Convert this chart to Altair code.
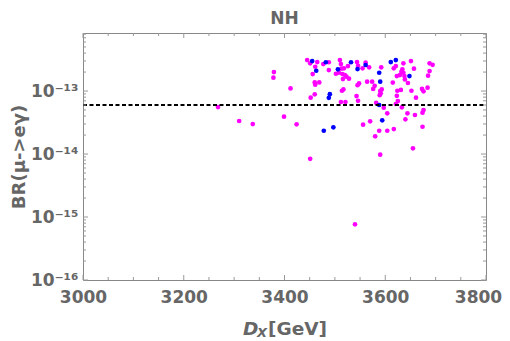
import altair as alt
import pandas as pd

# ---- data ----
pink_x = [3268, 3310, 3337, 3379, 3378, 3412, 3445, 3451, 3465, 3461, 3456, 3477, 3488, 3488,
          3460, 3461, 3469, 3460, 3452, 3510, 3512, 3513, 3518, 3502, 3508, 3515, 3520, 3523,
          3516, 3528, 3526, 3544, 3546, 3545, 3548, 3543, 3517, 3514, 3512, 3521, 3546, 3399,
          3424, 3451, 3540, 3590, 3561, 3555, 3568, 3592, 3564, 3574, 3579, 3576, 3593, 3590,
          3591, 3589, 3617, 3621, 3636, 3651, 3657, 3634, 3632, 3636, 3629, 3623, 3638, 3639,
          3645, 3615, 3624, 3631, 3623, 3652, 3661, 3688, 3694, 3688, 3685, 3684, 3673, 3676,
          3582, 3597, 3621, 3625, 3633, 3604, 3644, 3640, 3659, 3676, 3674, 3556, 3570, 3588,
          3604, 3617, 3674, 3580, 3655]
pink_y = [5.57e-14, 3.34e-14, 2.99e-14, 2.0e-13, 1.63e-13, 1.1e-13, 3.1e-13, 2.75e-13, 2.88e-13,
          2.43e-13, 1.86e-13, 2.68e-13, 2.86e-13, 2.15e-13, 1.37e-13, 1.26e-13, 1.37e-13,
          8.87e-14, 7.83e-14, 3.1e-13, 2.68e-13, 2.26e-13, 2.29e-13, 1.88e-13, 1.95e-13,
          1.86e-13, 1.79e-13, 1.69e-13, 1.55e-13, 1.57e-13, 2.49e-13, 2.88e-13, 2.52e-13,
          1.24e-13, 1.32e-13, 8.3e-14, 1.06e-13, 1.01e-13, 6.7e-14, 6.7e-14, 7.0e-14, 3.91e-14,
          2.96e-14, 8.4e-15, 7.66e-16, 9.75e-15, 2.82e-13, 2.29e-13, 2.38e-13, 2.38e-13,
          1.41e-13, 1.41e-13, 1.21e-13, 1.08e-13, 1.06e-13, 1.0e-13, 9.2e-14, 8.6e-14, 2.29e-13,
          2.49e-13, 2.75e-13, 2.99e-13, 2.26e-13, 2.21e-13, 2.02e-13, 1.95e-13, 1.79e-13,
          1.73e-13, 1.73e-13, 1.53e-13, 1.34e-13, 1.36e-13, 1.01e-13, 1.04e-13, 8.4e-14,
          1.01e-13, 7.83e-14, 2.75e-13, 2.61e-13, 2.07e-13, 1.75e-13, 1.13e-13, 1.08e-13,
          9.9e-14, 6.5e-14, 5.43e-14, 6.22e-14, 6.93e-14, 5.51e-14, 4.43e-14, 4.43e-14,
          3.56e-14, 4.16e-14, 4.99e-14, 4.53e-14, 2.92e-14, 3.3e-14, 2.34e-14, 2.34e-14,
          2.49e-14, 2.71e-14, 1.91e-14, 1.23e-14]
blue_x = [3561, 3588, 3590, 3611, 3621, 3648, 3588, 3594, 3455, 3463, 3482, 3490, 3488, 3506,
          3532, 3545, 3478, 3497]
blue_y = [2.59e-13, 1.95e-13, 1.41e-13, 2.88e-13, 3.1e-13, 1.73e-13, 6.0e-14, 3.43e-14,
          2.99e-13, 2.1e-13, 2.86e-13, 8.9e-14, 7.8e-14, 2.21e-13, 2.86e-13, 2.23e-13,
          2.34e-14, 2.65e-14]

limit_value = [6e-14]
x_domain = [3000, 3800]
y_domain = [1e-16, 8.34e-13]
x_major = [3000, 3200, 3400, 3600, 3800]
x_minor = [v for v in range(3000, 3801, 50) if v not in x_major]
y_major = [1e-16, 1e-15, 1e-14, 1e-13]
y_minor = [m * 10.0 ** e for e in range(-16, -12) for m in range(2, 10) if m * 10.0 ** e <= y_domain[1]]

W, H = 403, 247
GRAY = "#666666"
TICK = "#999999"
FONT = "DejaVu Sans"

pts = pd.DataFrame({
    "D": pink_x + blue_x,
    "BR": pink_y + blue_y,
    "c": ["pink"] * len(pink_x) + ["blue"] * len(blue_x),
})

xs = alt.Scale(domain=x_domain, nice=False, zero=False)
ys = alt.Scale(type="log", domain=y_domain, nice=False)

label_expr = ("'10' + (datum.value < 5e-16 ? '⁻¹⁶' : datum.value < 5e-15 ? '⁻¹⁵' : "
              "datum.value < 5e-14 ? '⁻¹⁴' : '⁻¹³')")

points = alt.Chart(pts).mark_circle(size=22, opacity=1).encode(
    x=alt.X("D:Q", scale=xs, axis=alt.Axis(values=x_major, format="d", title=None, ticks=False,
                                           domain=False, grid=False, labelFont=FONT,
                                           labelFontSize=17, labelFontWeight="bold",
                                           labelColor=GRAY, labelPadding=9, labelFlush=False,
                                           labelOffset={"expr": "datum.value == 3800 ? -8 : 0"})),
    y=alt.Y("BR:Q", scale=ys, axis=alt.Axis(values=y_major, labelExpr=label_expr, title="BR(μ->eγ)",
                                            ticks=False, domain=False, grid=False, labelFont=FONT,
                                            labelFontSize=17, labelFontWeight="bold",
                                            labelColor=GRAY, labelPadding=5, labelFlush=False,
                                            titleFont=FONT, titleFontSize=18, titleFontWeight="bold",
                                            titleColor=GRAY, titleAngle=270, titleX=-64,
                                            titleY=H / 2, titleAlign="center",
                                            titleBaseline="middle")),
    color=alt.Color("c:N", scale=alt.Scale(domain=["pink", "blue"], range=["#FF00FF", "#0000FF"]),
                    legend=None),
)

limit = alt.Chart(pd.DataFrame({"v": limit_value})).mark_rule(
    color="black", strokeWidth=2, strokeDash=[4, 2.5]
).encode(y=alt.Y("v:Q", scale=ys), x=alt.value(0), x2=alt.value(W))

xmaj = pd.DataFrame({"v": x_major})
xmin = pd.DataFrame({"v": x_minor})
ymaj = pd.DataFrame({"v": y_major})
ymin = pd.DataFrame({"v": y_minor})


def xt(df, y0, y1):
    return alt.Chart(df).mark_rule(color=TICK, strokeWidth=1).encode(
        x=alt.X("v:Q", scale=xs), y=alt.value(y0), y2=alt.value(y1))


def yt(df, x0, x1):
    return alt.Chart(df).mark_rule(color=TICK, strokeWidth=1).encode(
        y=alt.Y("v:Q", scale=ys), x=alt.value(x0), x2=alt.value(x1))


ticks = [
    xt(xmaj, H, H - 5), xt(xmaj, 0, 5), xt(xmin, H, H - 3), xt(xmin, 0, 3),
    yt(ymaj, 0, 5), yt(ymaj, W, W - 5), yt(ymin, 0, 3), yt(ymin, W, W - 3),
]

one = pd.DataFrame({"a": [0]})
tD = alt.Chart(one).mark_text(text="D", font=FONT, fontSize=18.5, fontWeight="bold",
                              fontStyle="italic", color=GRAY, align="left",
                              baseline="alphabetic").encode(x=alt.value(160), y=alt.value(302))
tX = alt.Chart(one).mark_text(text="X", font=FONT, fontSize=13, fontWeight="bold",
                              fontStyle="italic", color=GRAY, align="left",
                              baseline="alphabetic").encode(x=alt.value(174), y=alt.value(304))
tG = alt.Chart(one).mark_text(text="[GeV]", font=FONT, fontSize=18.5, fontWeight="bold",
                              color=GRAY, align="left",
                              baseline="alphabetic").encode(x=alt.value(185), y=alt.value(302))

chart = alt.layer(points, limit, *ticks, tD, tX, tG).properties(
    width=W, height=H,
    title=alt.TitleParams("NH", font=FONT, fontSize=17, fontWeight="bold", color=GRAY,
                          anchor="middle", offset=5),
    autosize=alt.AutoSizeParams(type="none"),
    padding={"left": 75, "top": 25, "right": 16, "bottom": 61},
).configure_view(stroke="#888888", strokeWidth=1)

chart.save("out.html", embed_options={"renderer": "svg", "actions": False})
